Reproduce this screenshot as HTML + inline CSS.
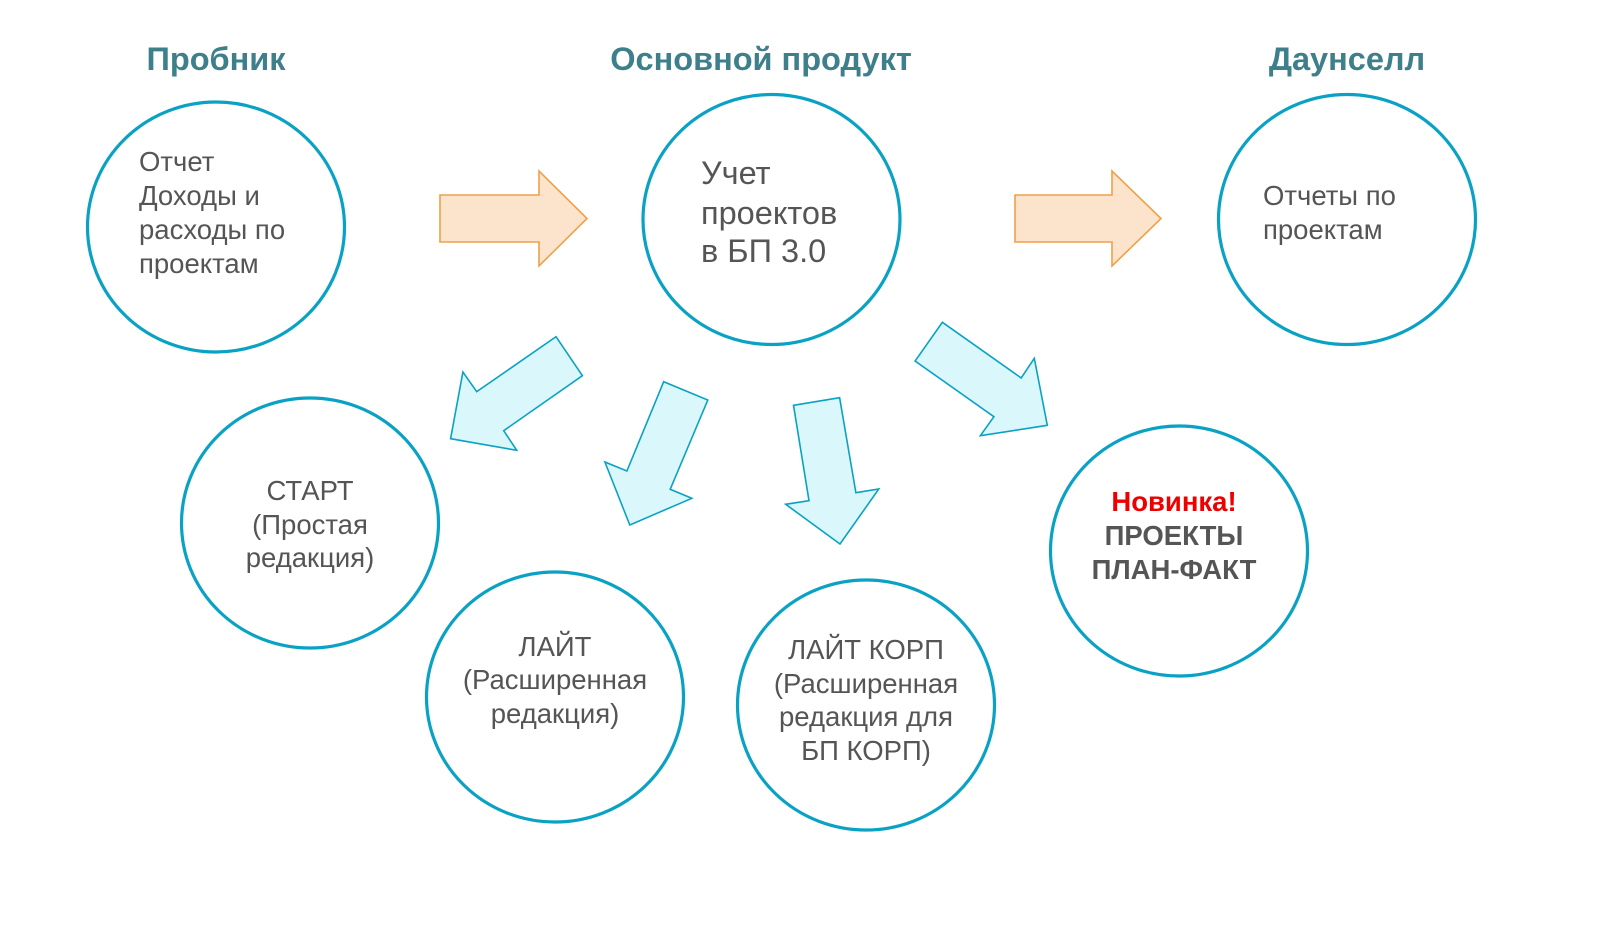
<!DOCTYPE html>
<html><head><meta charset="utf-8"><style>
html,body{margin:0;padding:0;background:#fff;}
svg{display:block;}
text{font-family:"Liberation Sans",Arial,sans-serif;}
</style></head><body>
<svg width="1600" height="930" viewBox="0 0 1600 930" xmlns="http://www.w3.org/2000/svg">
<g font-weight="bold" font-size="32.5" fill="#3d7f8b" text-anchor="middle">
<text x="216" y="70">Пробник</text>
<text x="761" y="70">Основной продукт</text>
<text x="1347" y="70">Даунселл</text>
</g>
<g fill="none" stroke="#0aa2c4" stroke-width="3.2">
<ellipse cx="216" cy="227" rx="128.5" ry="125"/>
<ellipse cx="771.5" cy="219.5" rx="128.5" ry="125"/>
<ellipse cx="1347" cy="219.5" rx="128.5" ry="125"/>
<ellipse cx="310" cy="523" rx="128.5" ry="125"/>
<ellipse cx="555" cy="697" rx="128.5" ry="125"/>
<ellipse cx="866" cy="705" rx="128.5" ry="125"/>
<ellipse cx="1179" cy="551" rx="128.5" ry="125"/>
</g>
<g fill="#fce4cc" stroke="#f0a048" stroke-width="1.6">
<polygon points="440,195 539,195 539,171 587,218.5 539,266 539,242 440,242"/>
<polygon points="1015,195 1112,195 1112,171 1161,218.5 1112,266 1112,242 1015,242"/>
</g>
<g fill="#daf7fc" stroke="#0aa2c4" stroke-width="1.6">
<polygon points="556,336.7 582.4,375.7 503.7,430.7 516.7,450.3 450.6,438.7 462.9,372 476.7,391.7"/>
<polygon points="663.7,381.7 707.8,400 670.2,489.3 691.8,498.3 629.8,525 604.9,462 626.9,471"/>
<polygon points="793.5,405.3 839.6,397.7 855.9,492.7 878.8,489 840,544 785.7,504.3 809,500.7"/>
<polygon points="942.4,322.3 1021.2,378 1034.3,358.3 1047.3,425.3 980.4,435.7 993.9,416.7 915.1,361"/>
</g>
<g font-size="27.5" fill="#555">
<text x="139" y="171">Отчет</text>
<text x="139" y="205">Доходы и</text>
<text x="139" y="239">расходы по</text>
<text x="139" y="273">проектам</text>
<text x="701" y="184" font-size="32.5">Учет</text>
<text x="701" y="224" font-size="32.5">проектов</text>
<text x="701" y="262" font-size="32.5">в БП 3.0</text>
<text x="1263" y="205">Отчеты по</text>
<text x="1263" y="239">проектам</text>
</g>
<g font-size="27.5" fill="#555" text-anchor="middle">
<text x="310" y="500">СТАРТ</text>
<text x="310" y="534">(Простая</text>
<text x="310" y="567">редакция)</text>
<text x="555" y="656">ЛАЙТ</text>
<text x="555" y="689">(Расширенная</text>
<text x="555" y="723">редакция)</text>
<text x="866" y="659">ЛАЙТ КОРП</text>
<text x="866" y="693">(Расширенная</text>
<text x="866" y="726">редакция для</text>
<text x="866" y="760">БП КОРП)</text>
</g>
<g font-size="27.5" font-weight="bold" text-anchor="middle">
<text x="1174" y="511" fill="#ee0000">Новинка!</text>
<text x="1174" y="545" fill="#555">ПРОЕКТЫ</text>
<text x="1174" y="579" fill="#555">ПЛАН-ФАКТ</text>
</g>
</svg>
</body></html>
